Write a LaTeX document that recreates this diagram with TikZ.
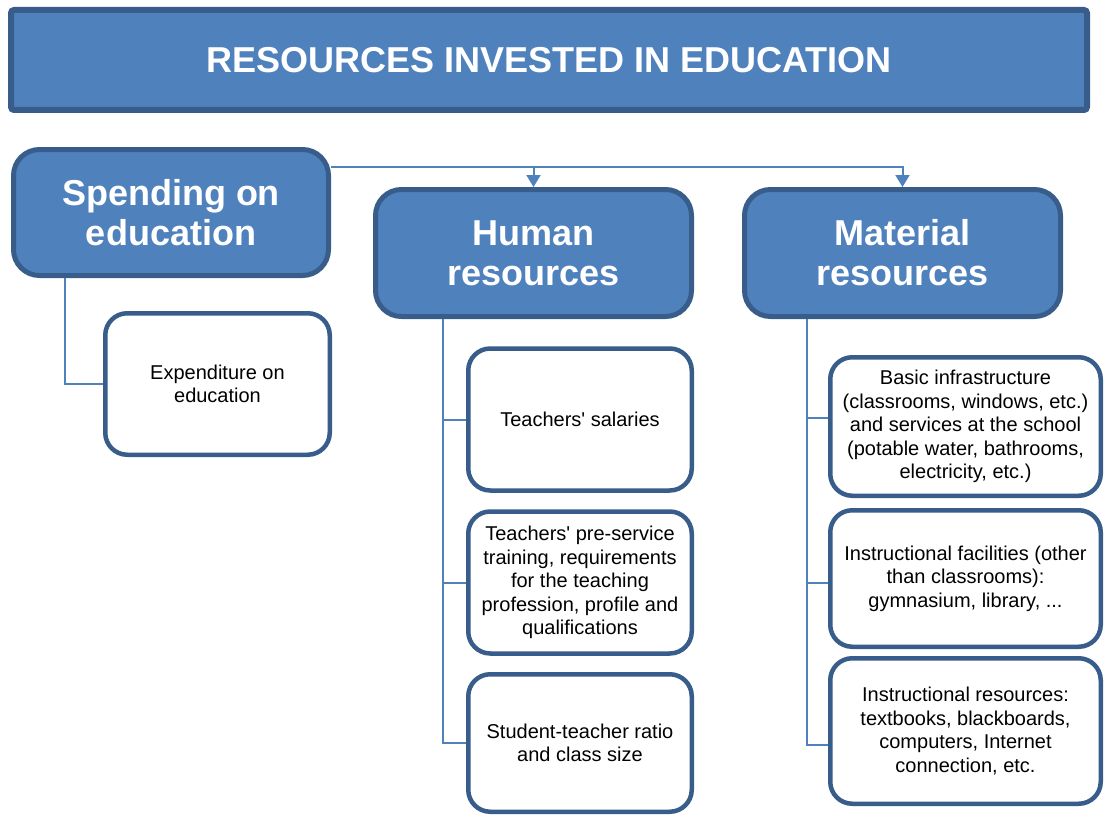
\documentclass[tikz,border=0pt]{standalone}
\usepackage{fontspec}
\setmainfont{Liberation Sans}[Ligatures=TeXOff]
\usepackage{xcolor}
\usepackage{tikz}
\usetikzlibrary{arrows.meta,positioning}
\definecolor{boxblue}{HTML}{4F81BD}
\definecolor{edgeblue}{HTML}{385D8A}

\begin{document}
\begin{tikzpicture}[x=1pt, y=-1pt,
    titlebox/.style={draw=edgeblue, fill=boxblue, line width=6pt,
                     rounded corners=3pt, minimum width=1076pt,
                     minimum height=100pt, text=white,
                     font=\fontsize{36}{41}\selectfont\bfseries},
    head/.style={draw=edgeblue, fill=boxblue, line width=5pt,
                 rounded corners=26pt, minimum width=316pt,
                 minimum height=127pt, align=center, text=white,
                 font=\fontsize{36}{40}\selectfont\bfseries},
    item/.style={draw=edgeblue, fill=white, line width=4.5pt,
                 rounded corners=22pt, minimum height=142pt,
                 align=center, inner sep=2pt,
                 font=\fontsize{20}{23.5}\selectfont},
    link/.style={draw=boxblue, line width=2pt},
    arrow/.style={link, -{Triangle[length=12pt,width=14pt]}}
]
\useasboundingbox (0,0) rectangle (1104,816);

\node[titlebox] (title) at (549,60) {RESOURCES INVESTED IN EDUCATION};

% top row
\node[head, minimum width=315pt, minimum height=126pt] (sp) at (171,212.5)
  {Spending on\\education};
\node[head] (hr) at (533.5,253) {Human\\resources};
\node[head] (mr) at (902.5,253) {Material\\resources};

% details
\node[item, minimum width=224.5pt, minimum height=141.5pt] (ex) at (217.5,384)
  {Expenditure on\\education};

\node[item, minimum width=223.5pt] (hr1) at (580,419.5) {Teachers' salaries};
\node[item, minimum width=223.5pt] (hr2) at (580,582.5)
  {Teachers' pre-service\\training, requirements\\for the teaching\\profession, profile and\\qualifications};
\node[item, minimum width=223.5pt, minimum height=137.5pt] (hr3) at (580,743)
  {Student-teacher ratio\\and class size};

\node[item, minimum width=270.5pt, minimum height=138.5pt] (mr1) at (965.5,426.5)
  {Basic infrastructure\\(classrooms, windows, etc.)\\and services at the school\\(potable water, bathrooms,\\electricity, etc.)};
\node[item, minimum width=270.5pt, minimum height=136.5pt] (mr2) at (965.5,578.5)
  {Instructional facilities (other\\than classrooms):\\gymnasium, library, ...};
\node[item, minimum width=270.5pt, minimum height=145.5pt] (mr3) at (965.5,731)
  {Instructional resources:\\textbooks, blackboards,\\computers, Internet\\connection, etc.};

% connectors
\coordinate (fork) at ([yshift=-20pt]sp.north east);
\draw[arrow] (fork) -| (hr.north);
\draw[arrow] (fork) -| (mr.north);

\draw[link] ([xshift=54pt]sp.south west) |- (ex.west);

\draw[link] ([xshift=70pt]hr.south west) |- (hr1.west);
\draw[link] ([xshift=70pt]hr.south west) |- (hr2.west);
\draw[link] ([xshift=70pt]hr.south west) |- (hr3.west);

\draw[link] ([xshift=65pt]mr.south west) |- ([yshift=8.5pt]mr1.west);
\draw[link] ([xshift=65pt]mr.south west) |- ([yshift=-4.5pt]mr2.west);
\draw[link] ([xshift=65pt]mr.south west) |- ([yshift=-14pt]mr3.west);
\end{tikzpicture}
\end{document}
